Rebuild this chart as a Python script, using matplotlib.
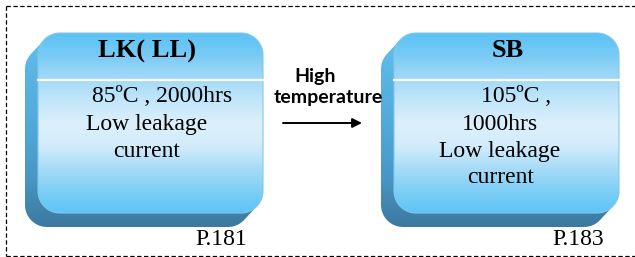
import numpy as np
import matplotlib.pyplot as plt
from matplotlib.patches import Polygon
from matplotlib.colors import LinearSegmentedColormap

# text content of the two blocks
titles = ["LK( LL)", "SB"]
body_lines = [["85ºC , 2000hrs", "Low leakage", "current"],
              ["105ºC ,", "1000hrs", "Low leakage", "current"]]
pages = ["P.181", "P.183"]
arrow_label = ["High", "temperature"]

W, H = 635, 257


def rounded_rect(x0, y0, x1, y1, r, n=16):
  pts = []
  corners = [(x1 - r, y0 + r, -90, 0), (x1 - r, y1 - r, 0, 90),
             (x0 + r, y1 - r, 90, 180), (x0 + r, y0 + r, 180, 270)]
  for cx, cy, a0, a1 in corners:
    a = np.radians(np.linspace(a0, a1, n))
    pts += list(zip(cx + r * np.cos(a), cy + r * np.sin(a)))
  return np.array(pts)


# monotone chain hull, gives the extruded outline of the block
def hull(points):
  pts = sorted(set(map(tuple, np.round(points, 3))))
  def cross(o, a, b):
    return (a[0] - o[0]) * (b[1] - o[1]) - (a[1] - o[1]) * (b[0] - o[0])
  lower, upper = [], []
  for p in pts:
    while len(lower) >= 2 and cross(lower[-2], lower[-1], p) <= 0:
      lower.pop()
    lower.append(p)
  for p in reversed(pts):
    while len(upper) >= 2 and cross(upper[-2], upper[-1], p) <= 0:
      upper.pop()
    upper.append(p)
  return np.array(lower[:-1] + upper[:-1])


def gradient(ax, poly, x0, x1, y0, y1, stops, z):
  cmap = LinearSegmentedColormap.from_list("g", stops)
  col = cmap(np.linspace(0, 1, 256))[:, :3]
  img = np.repeat(col[:, None, :], 2, axis=1)
  patch = Polygon(poly, closed=True, facecolor="none", edgecolor="none")
  ax.add_patch(patch)
  im = ax.imshow(img, extent=(x0, x1, y1, y0), origin="upper",
                 interpolation="bilinear", aspect="auto", zorder=z)
  im.set_clip_path(patch)


fig = plt.figure(figsize=(6.35, 2.57), dpi=100)
ax = fig.add_axes([0, 0, 1, 1])
ax.set_xlim(0, W)
ax.set_ylim(H, 0)
ax.axis("off")

# dashed frame
dash = dict(color="black", lw=0.9, ls=(0, (3.5, 2)))
ax.plot([6, W], [5.5, 5.5], **dash)
ax.plot([6, 6], [5.5, 255.5], **dash)
ax.plot([6, W], [255.5, 255.5], **dash)

front_face = ["#5bc2f4", "#79cbf5", "#a3d9f7", "#c2e6fa", "#dcf0fc",
              "#d3ecfb", "#a8dcf8", "#7fcff6", "#5ec4f5"]
side_face = ["#62c0ee", "#58b3e3", "#50a8d8", "#4896c4", "#3c789f"]

boxes = [(38, 263), (394, 619)]
top, bot, r = 33, 213, 22
dx, dy = -13, 14

for (x0, x1) in boxes:
  front = rounded_rect(x0, top, x1, bot, r)
  back = rounded_rect(x0 + dx, top + dy, x1 + dx, bot + dy, r)
  outline = hull(np.vstack([front, back]))
  gradient(ax, outline, x0 + dx - 1, x1 + 1, top - 1, bot + dy + 1, side_face, 1)
  gradient(ax, front, x0, x1, top, bot, front_face, 2)
  ax.add_patch(Polygon(front, closed=True, facecolor="none",
                       edgecolor="#84c8ec", lw=0.8, zorder=3))
  ax.plot([x0, x1], [80, 80], color="white", lw=1.6, zorder=4)

serif = "Liberation Serif"

# left block
ax.text(147, 58, titles[0], family=serif, weight="bold", fontsize=19,
        ha="center", va="baseline", zorder=5)
for txt, xc, yb in zip(body_lines[0], [162, 147, 147], [102, 130, 157]):
  ax.text(xc, yb, txt, family=serif, fontsize=17, ha="center", va="baseline", zorder=5)
ax.text(195, 245, pages[0], family=serif, fontsize=17, ha="left", va="baseline", zorder=5)

# right block
ax.text(508, 57, titles[1], family=serif, weight="bold", fontsize=19,
        ha="center", va="baseline", zorder=5)
for txt, xc, yb in zip(body_lines[1], [516, 500, 500, 501], [102, 130, 157, 183]):
  ax.text(xc, yb, txt, family=serif, fontsize=17, ha="center", va="baseline", zorder=5)
ax.text(552, 245, pages[1], family=serif, fontsize=17, ha="left", va="baseline", zorder=5)

# arrow between
ax.text(315, 82, arrow_label[0], family="Lato", weight="bold", fontsize=14,
        ha="center", va="baseline", zorder=5)
ax.text(328, 103, arrow_label[1], family="Lato", weight="bold", fontsize=14,
        ha="center", va="baseline", zorder=5)
ax.annotate("", xy=(362, 123), xytext=(283, 123),
            arrowprops=dict(arrowstyle="-|>", color="black", lw=1.4,
                            mutation_scale=14, shrinkA=0, shrinkB=0), zorder=5)

fig.savefig("out.png", dpi=100, facecolor="white")
